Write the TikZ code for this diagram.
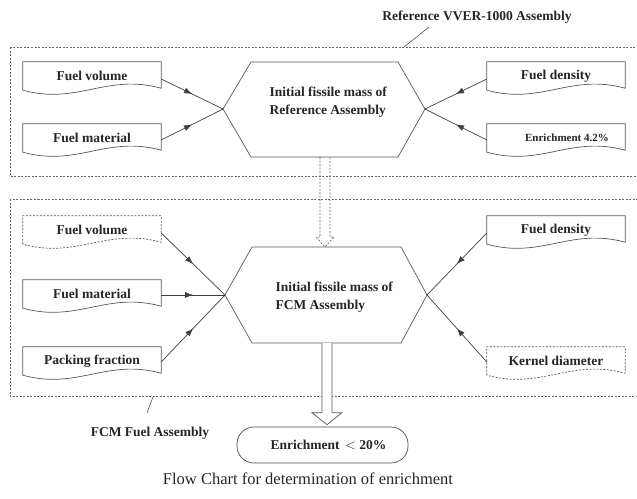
\documentclass[tikz,border=0pt]{standalone}
\usepackage{fontspec}
\setmainfont{Liberation Serif}
\usetikzlibrary{calc,arrows.meta,decorations.markings}
\newcommand\docshape[2][]{\draw[outl,#1] (#2.south west) -- (#2.north west) -- (#2.north east) -- ($(#2.south east)+(0,-2)$) .. controls +(-55,-15) and +(55,15) .. (#2.south west) -- cycle;}
\begin{document}
\begin{tikzpicture}[x=1pt,y=-1pt,
  lbl/.style={font=\bfseries\fontsize{13.5}{18}\selectfont, text=black!85},
  docnode/.style={lbl, minimum width=138pt, minimum height=28pt, inner sep=0pt},
  outl/.style={draw=black!65, line width=0.7pt},
  dsh/.style={dash pattern=on 2pt off 1.5pt},
  frame/.style={draw=black!60, line width=0.6pt, dsh},
  conn/.style={draw=black!75, line width=0.7pt, postaction=decorate,
    decoration={markings, mark=at position 0.5 with {\arrow{Latex[length=8pt,width=6pt]}}}}]
\clip (0,0) rectangle (637,498);
\fill[white] (0,0) rectangle (637,498);

% frames
\draw[frame] (10,47) rectangle (645,176);
\draw[frame] (10,199) rectangle (645,396);

% title labels
\node[lbl] (title) at (477,17) {Reference VVER-1000 Assembly};
\coordinate (tla) at (429,27); \coordinate (tlb) at (404,47);
\draw[draw=black!65, line width=0.6pt] (tla) -- (tlb);
\node[lbl] (fcmlab) at (150,433) {FCM Fuel Assembly};
\coordinate (fla) at (153,397); \coordinate (flb) at (147,413);
\draw[draw=black!65, line width=0.6pt] (fla) -- (flb);

% top hexagon
\coordinate (h1tl) at (251,62); \coordinate (h1tr) at (398,62);
\coordinate (h1r) at (425,109); \coordinate (h1br) at (398,157);
\coordinate (h1bl) at (251,157); \coordinate (h1l) at (223,109);
\draw[outl] (h1tl) -- (h1tr) -- (h1r) -- (h1br) -- (h1bl) -- (h1l) -- cycle;
\node[lbl, align=left, anchor=west] (hex1) at (266,102) {Initial fissile mass of\\Reference Assembly};

% bottom hexagon
\coordinate (h2tl) at (252,247); \coordinate (h2tr) at (401,247);
\coordinate (h2r) at (427,295); \coordinate (h2br) at (401,343);
\coordinate (h2bl) at (252,343); \coordinate (h2l) at (225,295);
\draw[outl] (h2tl) -- (h2tr) -- (h2r) -- (h2br) -- (h2bl) -- (h2l) -- cycle;
\node[lbl, align=left, anchor=west] (hex2) at (272,297) {Initial fissile mass of\\FCM Assembly};

% top document boxes
\node[docnode] (fv1) at (92,76) {Fuel volume};
\node[docnode] (fm1) at (92,138) {Fuel material};
\node[docnode] (fd1) at (556,76) {Fuel density};
\node[docnode, font=\bfseries\fontsize{11}{13}\selectfont, text=black!85] (en1) at (556,138) {\hspace*{22pt}Enrichment 4.2\%};
\docshape{fv1} \docshape{fm1} \docshape{fd1} \docshape{en1}

% bottom document boxes
\node[docnode] (fv2) at (92,230) {Fuel volume};
\node[docnode] (fm2) at (92,294) {Fuel material};
\node[docnode] (pf) at (92,361) {Packing fraction};
\node[docnode] (fd2) at (556,230) {Fuel density};
\node[docnode] (kd) at (556,361) {Kernel diameter};
\docshape[dsh]{fv2} \docshape{fm2} \docshape{pf} \docshape{fd2} \docshape[dsh]{kd}

% connectors
\draw[conn] ($(fv1.east)+(0,3)$) -- (h1l);
\draw[conn] ($(fm1.east)+(0,2)$) -- (h1l);
\draw[conn] ($(fd1.west)+(0,3)$) -- (h1r);
\draw[conn] ($(en1.west)+(0,2)$) -- (h1r);
\draw[conn] ($(fv2.east)+(0,3)$) -- (h2l);
\draw[conn] ($(fm2.east)+(0,1)$) -- (h2l);
\draw[conn] ($(pf.east)+(0,1)$) -- (h2l);
\draw[conn] ($(fd2.west)+(0,3)$) -- (h2r);
\draw[conn] ($(kd.west)+(0,1)$) -- (h2r);

% dashed hollow arrow between hexagons
\coordinate (da) at (325,157); \coordinate (db) at (325,247);
\draw[frame] ($(da)+(-5,0)$) -- ($(db)+(-5,-10)$) -- ($(db)+(-9,-10)$) -- (db) -- ($(db)+(9,-10)$) -- ($(db)+(5,-10)$) -- ($(da)+(5,0)$);

% result
\node[lbl, draw=black!70, line width=0.7pt, rounded corners=17pt, minimum width=171pt, minimum height=36pt, inner sep=0pt] (res) at (322.5,445) {\hspace*{12pt}Enrichment\, $<$ 20\%};
\coordinate (sa) at (327,343);
\draw[outl, fill=white] ($(sa)+(-5,0)$) -- ($(res.north)+(-0.5,-14)$) -- ($(res.north)+(-10.5,-14)$) -- ($(res.north)+(4.5,-2)$) -- ($(res.north)+(19.5,-14)$) -- ($(res.north)+(9.5,-14)$) -- ($(sa)+(5,0)$);

% caption
\node[font=\fontsize{16.5}{20}\selectfont, text=black!85] (cap) at (308,479) {Flow Chart for determination of enrichment};
\end{tikzpicture}
\end{document}
